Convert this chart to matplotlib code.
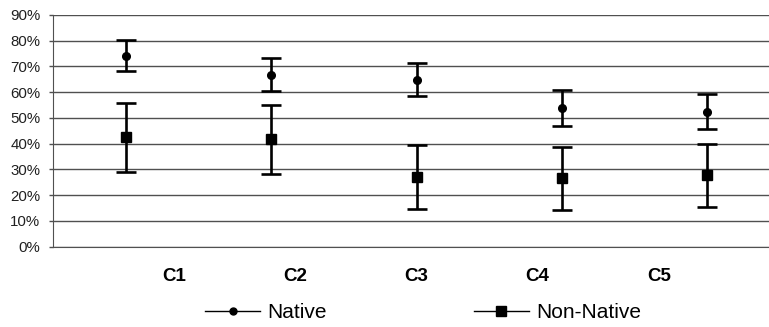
import numpy as np
import matplotlib
matplotlib.use('Agg')
import matplotlib.pyplot as plt
from matplotlib.lines import Line2D
from matplotlib.ticker import PercentFormatter

plt.rcParams['font.family'] = ['Liberation Sans', 'DejaVu Sans']

# data (in %)
categories = ['C1', 'C2', 'C3', 'C4', 'C5']
native = [74.2, 66.7, 64.9, 54.0, 52.4]
native_low = [68.3, 60.6, 58.4, 46.9, 45.6]
native_high = [80.3, 73.2, 71.5, 60.8, 59.2]
nonnative = [42.7, 41.7, 27.2, 26.6, 27.9]
nonnative_low = [29.0, 28.1, 14.5, 14.3, 15.5]
nonnative_high = [55.9, 54.9, 39.4, 38.6, 39.9]
yticks = np.arange(0, 91, 10)

W, H = 769, 327
fig = plt.figure(figsize=(W / 100, H / 100), dpi=100)
# plot area runs past the right edge of the image, as in the original
ax = fig.add_axes([53 / W, (H - 246.7) / H, 727 / W, 231.7 / H])

n = len(categories)
x = np.arange(n) + 0.5
ax.set_xlim(0, n)
ax.set_ylim(0, 90)

native = np.array(native)
nonnative = np.array(nonnative)
err_n = [native - np.array(native_low), np.array(native_high) - native]
err_nn = [nonnative - np.array(nonnative_low), np.array(nonnative_high) - nonnative]

ax.errorbar(x, native, yerr=err_n, fmt='o', color='black', ms=5.5,
            elinewidth=1.9, capsize=7, capthick=1.9, zorder=3)
ax.errorbar(x, nonnative, yerr=err_nn, fmt='s', color='black', ms=6.5,
            elinewidth=1.9, capsize=7, capthick=1.9, zorder=3)

# grid and axes
ax.set_yticks(yticks)
ax.yaxis.set_major_formatter(PercentFormatter(decimals=0))
ax.grid(axis='y', color='#505050', lw=1, zorder=0)
ax.tick_params(axis='y', direction='out', length=3, width=1, color='#505050',
               labelsize=10.8, labelcolor='#202020', pad=6)
ax.set_xticks([])
for s in ['top', 'right']:
    ax.spines[s].set_visible(False)
ax.spines['left'].set_color('#505050')
ax.spines['bottom'].set_color('#505050')

# category labels sit on a 6-slot grid (Excel quirk)
trans = ax.get_xaxis_transform()
for i, c in enumerate(categories):
    ax.text((i + 1) * n / (n + 1), -0.1295, c, transform=trans, ha='center',
            va='center', fontsize=13.5, fontweight='bold', color='black')

handles = [
    Line2D([], [], color='black', lw=1, marker='o', ms=5),
    Line2D([], [], color='black', lw=1, marker='s', ms=6.5),
]
fig.legend(handles, ['Native', 'Non-Native'], loc='center', ncol=2,
           bbox_to_anchor=(423 / W, 1 - 313 / H), frameon=False,
           fontsize=15, handlelength=2.64, handletextpad=0.34,
           columnspacing=7.07, borderpad=0)

fig.savefig('out.png', dpi=100)
